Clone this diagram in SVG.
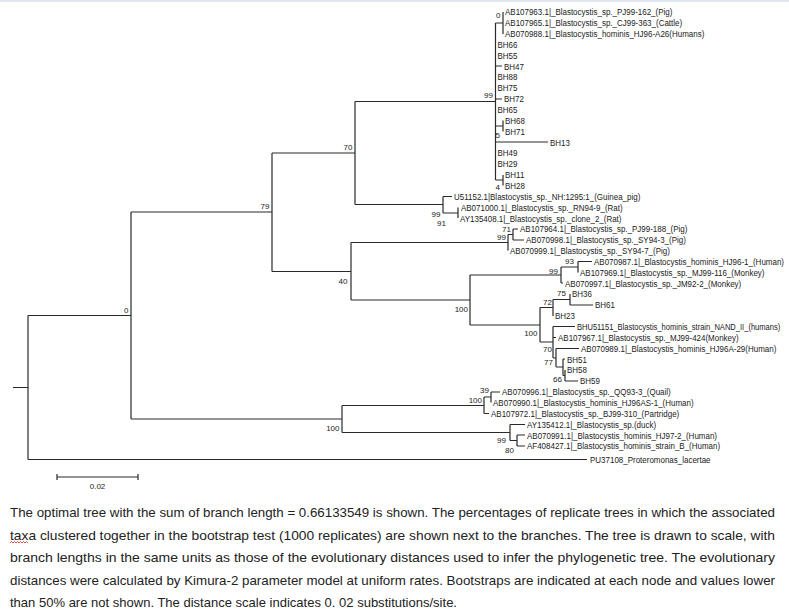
<svg xmlns="http://www.w3.org/2000/svg" width="789" height="614" viewBox="0 0 789 614">
<style>
.br{fill:none;stroke:#2a2a2a;stroke-width:1.2}
.lf{font-family:"Liberation Sans",Arial,sans-serif;font-size:9.5px;fill:#1a1a1a}
.bs{font-family:"Liberation Sans",Arial,sans-serif;font-size:8px;fill:#1a1a1a;text-anchor:end}
.cap{font-family:"Liberation Sans",Arial,sans-serif;font-size:13px;fill:#222}
</style>
<rect x="0" y="0" width="789" height="614" fill="#fff"/>
<rect x="0" y="0" width="789" height="2" fill="#dfe6ef"/>
<g id="branches">
<path class="br" d="M13,387.5H28M28,315.5V459.5M28,315.5H131M28,459.5H587M131,212V419M131,212H272M131,419H342M272,153V271.5M272,153H355M272,271.5H351M355,101.5V204.5M355,101.5H495.5M355,204.5H443M495.5,23V180M495.5,23H503M503,12V34M495.5,66H502M495.5,99H502M495.5,126H503M503,120.5V131.5M495.5,142H548M495.5,180H503M503,175V185.5M443,196.5V213M443,196.5H452M443,213H458M458,207.5V218M351,242.5V300M351,242.5H508M351,300H470M508,234.5V250.5M508,234.5H513M513,229V240M513,229H518M513,240H524M470,275V325M470,275H561M470,325H540M561,267V283M561,267H578M578,261.5V272.5M578,261.5H592M561,283H563M540,307.5V342M540,307.5H553M540,342H553M553,299.5V316M553,299.5H570M570,294V305M570,305H593M553,326.5V358M553,326.5H575M553,337.5H556M553,358H556M556,348.5V367M556,348.5H579M556,367H563M563,359V375.5M563,359H565M563,375.5H565M565,370V381M565,381H578M342,405.5V432.5M342,405.5H484M342,432.5H510M484,397V413.5M484,397H491M484,413.5H489M491,392V402.5M491,392H500M510,424.5V440.5M510,424.5H525M510,440.5H517M517,435V446M517,435H525M517,446H525"/>
</g>
<g id="leaves" transform="scale(0.84,1)">
<g id="n-AB107963"><text class="lf" x="601.19" y="15.4">AB107963.1|_Blastocystis_sp._PJ99-162_(Pig)</text></g>
<g id="n-AB107965"><text class="lf" x="601.19" y="26.3">AB107965.1|_Blastocystis_sp._CJ99-363_(Cattle)</text></g>
<g id="n-AB070988"><text class="lf" x="601.19" y="37.1">AB070988.1|_Blastocystis_hominis_HJ96-A26(Humans)</text></g>
<g id="n-BH66"><text class="lf" x="592.26" y="48">BH66</text></g>
<g id="n-BH55"><text class="lf" x="592.26" y="58.8">BH55</text></g>
<g id="n-BH47"><text class="lf" x="600" y="69.6">BH47</text></g>
<g id="n-BH88"><text class="lf" x="592.26" y="80.5">BH88</text></g>
<g id="n-BH75"><text class="lf" x="592.26" y="91.4">BH75</text></g>
<g id="n-BH72"><text class="lf" x="600" y="102.2">BH72</text></g>
<g id="n-BH65"><text class="lf" x="592.26" y="113">BH65</text></g>
<g id="n-BH68"><text class="lf" x="601.19" y="123.9">BH68</text></g>
<g id="n-BH71"><text class="lf" x="601.19" y="134.8">BH71</text></g>
<g id="n-BH13"><text class="lf" x="654.76" y="145.6">BH13</text></g>
<g id="n-BH49"><text class="lf" x="592.26" y="156.4">BH49</text></g>
<g id="n-BH29"><text class="lf" x="592.26" y="167.3">BH29</text></g>
<g id="n-BH11"><text class="lf" x="601.19" y="178.2">BH11</text></g>
<g id="n-BH28"><text class="lf" x="601.19" y="189">BH28</text></g>
<g id="n-U51152"><text class="lf" x="540.48" y="199.9">U51152.1|Blastocystis_sp._NH:1295:1_(Guinea_pig)</text></g>
<g id="n-AB071000"><text class="lf" x="548.81" y="210.7">AB071000.1|_Blastocystis_sp._RN94-9_(Rat)</text></g>
<g id="n-AY135408"><text class="lf" x="547.62" y="221.6">AY135408.1|_Blastocystis_sp._clone_2_(Rat)</text></g>
<g id="n-AB107964"><text class="lf" x="619.05" y="232.4">AB107964.1|_Blastocystis_sp._PJ99-188_(Pig)</text></g>
<g id="n-AB070998"><text class="lf" x="626.19" y="243.3">AB070998.1|_Blastocystis_sp._SY94-3_(Pig)</text></g>
<g id="n-AB070999"><text class="lf" x="607.14" y="254.1">AB070999.1|_Blastocystis_sp._SY94-7_(Pig)</text></g>
<g id="n-AB070987"><text class="lf" x="707.14" y="265">AB070987.1|_Blastocystis_hominis_HJ96-1_(Human)</text></g>
<g id="n-AB107969"><text class="lf" x="690.48" y="275.8">AB107969.1|_Blastocystis_sp._MJ99-116_(Monkey)</text></g>
<g id="n-AB070997"><text class="lf" x="672.62" y="286.7">AB070997.1|_Blastocystis_sp._JM92-2_(Monkey)</text></g>
<g id="n-BH36"><text class="lf" x="680.95" y="297.5">BH36</text></g>
<g id="n-BH61"><text class="lf" x="708.33" y="308.4">BH61</text></g>
<g id="n-BH23"><text class="lf" x="660.71" y="319.2">BH23</text></g>
<g id="n-BHU51151"><text class="lf" x="686.9" y="330" style="font-size:8.9px" textLength="242" lengthAdjust="spacingAndGlyphs">BHU51151_Blastocystis_hominis_strain_NAND_II_(humans)</text></g>
<g id="n-AB107967"><text class="lf" x="664.29" y="340.9">AB107967.1|_Blastocystis_sp._MJ99-424(Monkey)</text></g>
<g id="n-AB070989"><text class="lf" x="691.67" y="351.8">AB070989.1|_Blastocystis_hominis_HJ96A-29(Human)</text></g>
<g id="n-BH51"><text class="lf" x="675" y="362.6">BH51</text></g>
<g id="n-BH58"><text class="lf" x="675" y="373.4">BH58</text></g>
<g id="n-BH59"><text class="lf" x="690.48" y="384.3">BH59</text></g>
<g id="n-AB070996"><text class="lf" x="597.62" y="395.2">AB070996.1|_Blastocystis_sp._QQ93-3_(Quail)</text></g>
<g id="n-AB070990"><text class="lf" x="586.9" y="406">AB070990.1|_Blastocystis_hominis_HJ96AS-1_(Human)</text></g>
<g id="n-AB107972"><text class="lf" x="584.52" y="416.9">AB107972.1|_Blastocystis_sp._BJ99-310_(Partridge)</text></g>
<g id="n-AY135412"><text class="lf" x="627.38" y="427.7">AY135412.1|_Blastocystis_sp.(duck)</text></g>
<g id="n-AB070991"><text class="lf" x="627.38" y="438.6">AB070991.1|_Blastocystis_hominis_HJ97-2_(Human)</text></g>
<g id="n-AF408427"><text class="lf" x="627.38" y="449.4">AF408427.1|_Blastocystis_hominis_strain_B_(Human)</text></g>
<g id="n-PU37108"><text class="lf" x="702.38" y="462.9">PU37108_Proteromonas_lacertae</text></g>
</g>
<g id="bootstrap">
<g id="b-root0"><text class="bs" x="128.5" y="312.5">0</text></g>
<g id="b-79"><text class="bs" x="269.5" y="208.5">79</text></g>
<g id="b-70a"><text class="bs" x="352.5" y="149.5">70</text></g>
<g id="b-99b"><text class="bs" x="440.5" y="217">99</text></g>
<g id="b-91"><text class="bs" x="446" y="225.5">91</text></g>
<g id="b-40"><text class="bs" x="347.5" y="283.5">40</text></g>
<g id="b-100low"><text class="bs" x="339.5" y="431">100</text></g>
<g id="b-99a"><text class="bs" x="493" y="97.5">99</text></g>
<g id="b-0s"><text class="bs" x="500.5" y="17.5">0</text></g>
<g id="b-5"><text class="bs" x="500" y="138">5</text></g>
<g id="b-4"><text class="bs" x="500" y="189.5">4</text></g>
<g id="b-99c"><text class="bs" x="506" y="239.5">99</text></g>
<g id="b-71"><text class="bs" x="511" y="232">71</text></g>
<g id="b-93"><text class="bs" x="574" y="264">93</text></g>
<g id="b-99d"><text class="bs" x="558" y="273.5">99</text></g>
<g id="b-100a"><text class="bs" x="468" y="311.5">100</text></g>
<g id="b-72"><text class="bs" x="552" y="304.5">72</text></g>
<g id="b-75"><text class="bs" x="566" y="296">75</text></g>
<g id="b-100b"><text class="bs" x="537.5" y="335.5">100</text></g>
<g id="b-70b"><text class="bs" x="552" y="352">70</text></g>
<g id="b-77"><text class="bs" x="553" y="364.5">77</text></g>
<g id="b-66"><text class="bs" x="562" y="382">66</text></g>
<g id="b-39"><text class="bs" x="489" y="393">39</text></g>
<g id="b-100c"><text class="bs" x="482" y="403">100</text></g>
<g id="b-99e"><text class="bs" x="506" y="443">99</text></g>
<g id="b-80"><text class="bs" x="514" y="453">80</text></g>
</g>
<g id="scalebar">
<path class="br" d="M57,477H138M57,474V480M138,474V480"/>
<text class="bs" x="97.5" y="489" style="text-anchor:middle">0.02</text>
</g>
<g id="caption">
<text class="cap" x="10" y="517" textLength="765" lengthAdjust="spacingAndGlyphs">The optimal tree with the sum of branch length = 0.66133549 is shown. The percentages of replicate trees in which the associated</text>
<text class="cap" x="10" y="540" textLength="765" lengthAdjust="spacingAndGlyphs">taxa clustered together in the bootstrap test (1000 replicates) are shown next to the branches. The tree is drawn to scale, with</text>
<text class="cap" x="10" y="562" textLength="765" lengthAdjust="spacingAndGlyphs">branch lengths in the same units as those of the evolutionary distances used to infer the phylogenetic tree. The evolutionary</text>
<text class="cap" x="10" y="585" textLength="765" lengthAdjust="spacingAndGlyphs">distances were calculated by Kimura-2 parameter model at uniform rates. Bootstraps are indicated at each node and values lower</text>
<text class="cap" x="10" y="607" textLength="447" lengthAdjust="spacingAndGlyphs">than 50% are not shown. The distance scale indicates 0. 02 substitutions/site.</text>
<path d="M10,543l1.5,-1.5l1.5,1.5l1.5,-1.5l1.5,1.5l1.5,-1.5l1.5,1.5l1.5,-1.5l1.5,1.5l1.5,-1.5l1.5,1.5l1.5,-1.5l1.5,1.5" fill="none" stroke="#d22" stroke-width="0.8"/>
</g>
</svg>
